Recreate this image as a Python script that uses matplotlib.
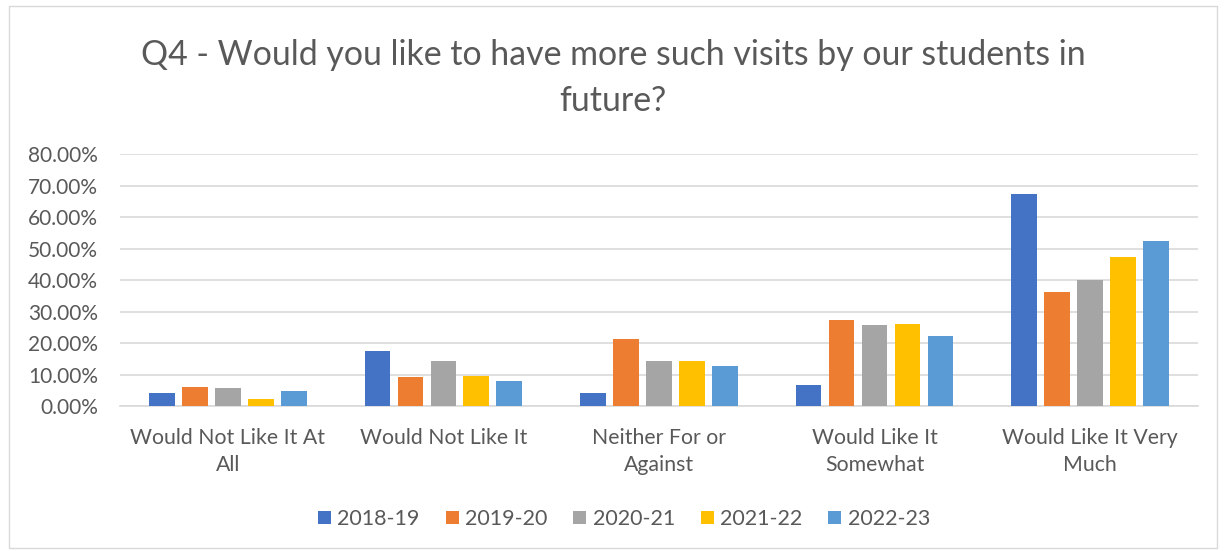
# grouped bar chart of survey answers (Q4) for five academic years
import matplotlib.pyplot as plt
import numpy as np
from matplotlib.patches import Rectangle

plt.rcParams['font.family'] = ['Lato', 'DejaVu Sans']

categories = ['Would Not Like It At\nAll', 'Would Not Like It', 'Neither For or\nAgainst',
              'Would Like It\nSomewhat', 'Would Like It Very\nMuch']
years = ['2018-19', '2019-20', '2020-21', '2021-22', '2022-23']
colors = ['#4472C4', '#ED7D31', '#A5A5A5', '#FFC000', '#5B9BD5']

# percentage of answers per year, one list per year
v_2018 = [4.25, 17.5, 4.25, 6.6, 67.4]
v_2019 = [6.15, 9.1, 21.2, 27.3, 36.3]
v_2020 = [5.7, 14.3, 14.3, 25.7, 40.0]
v_2021 = [2.3, 9.5, 14.3, 26.2, 47.5]
v_2022 = [4.9, 7.9, 12.8, 22.3, 52.4]
values = [v_2018, v_2019, v_2020, v_2021, v_2022]

fig = plt.figure(figsize=(12.26, 5.51), dpi=100)
ax = fig.add_axes([0.098, 0.263, 0.879, 0.457])

x = np.arange(len(categories))
step = 0.153
width = 0.12
for i, (yr, vals) in enumerate(zip(years, values)):
    ax.bar(x + (i - 2) * step, vals, width, color=colors[i], label=yr, zorder=3)

ax.set_xlim(-0.5, len(categories) - 0.5)
ax.set_ylim(0, 80)
ax.set_yticks(np.arange(0, 81, 10))
ax.set_yticklabels(['%.2f%%' % t for t in np.arange(0, 81, 10)])
ax.set_xticks(x)
ax.set_xticklabels(categories, fontsize=15.3, linespacing=1.4)
ax.grid(axis='y', color='#D9D9D9', linewidth=1.2, zorder=0)
for s in ['top', 'right', 'left']:
    ax.spines[s].set_visible(False)
ax.spines['bottom'].set_color('#D9D9D9')
ax.spines['bottom'].set_linewidth(1.2)
ax.tick_params(length=0, colors='#595959')
ax.tick_params(axis='x', pad=16)
ax.tick_params(axis='y', pad=16, labelsize=15)

fig.text(0.5, 1 - 111 / 551,
         'Q4 - Would you like to have more such visits by our students in\nfuture?',
         ha='center', va='baseline', fontsize=24.4, color='#595959', linespacing=1.55)

fig.legend(loc='center', bbox_to_anchor=(0.509, 0.058), ncol=5, frameon=False,
           fontsize=15.5, labelcolor='#595959', handlelength=0.6, handleheight=0.6,
           handletextpad=0.3, columnspacing=1.2)

fig.patches.append(Rectangle((0.007, 0.005), 0.986, 0.985, transform=fig.transFigure,
                             fill=False, edgecolor='#D9D9D9', linewidth=1))

plt.savefig('out.png')
